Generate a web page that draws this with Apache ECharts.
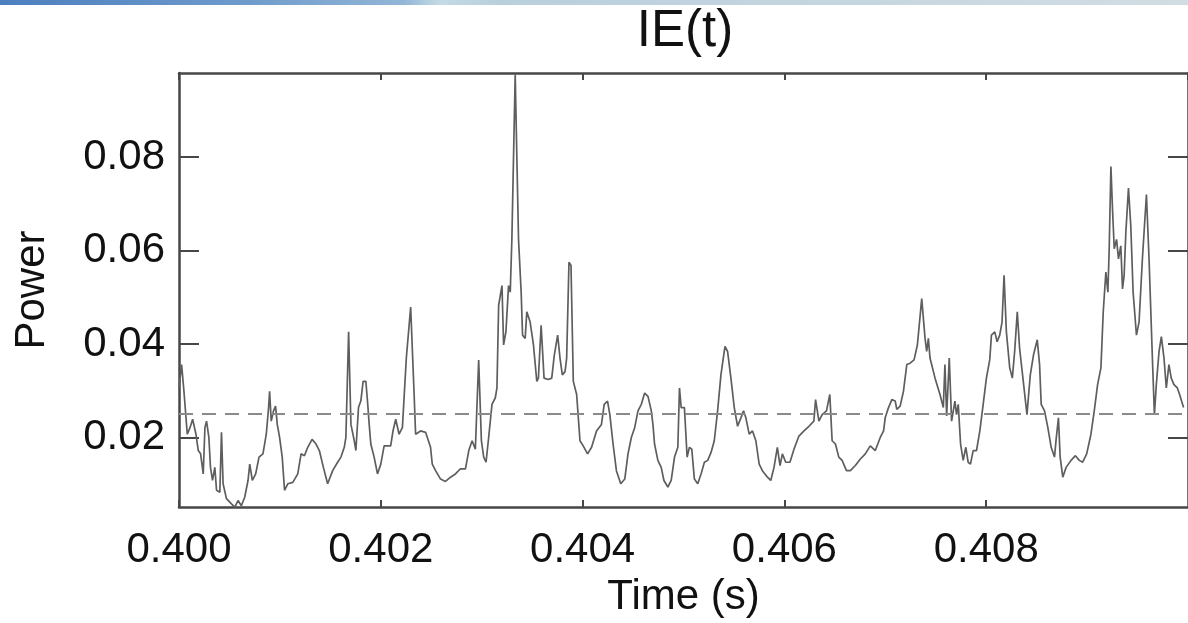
<!DOCTYPE html>
<html>
<head>
<meta charset="utf-8">
<script src="https://cdn.jsdelivr.net/npm/echarts@6/dist/echarts.min.js"></script>
<style>
html,body{margin:0;padding:0;background:#fff;}
#c{width:1188px;height:623px;}
</style>
</head>
<body>
<div id="c"></div>
<script>
// ---- data ----
var chartTitle = 'IE(t)';
var xName = 'Time (s)';
var yName = 'Power';
var xTicks = [0.400, 0.402, 0.404, 0.406, 0.408, 0.410];
var yTicks = [0.02, 0.04, 0.06, 0.08];
var xRange = [0.400, 0.410];
var yRange = [0.0051, 0.098];
var thresholdLevel = 0.025;

var timeS = [
0.400000,0.400026,0.400049,0.400082,0.400109,0.400135,0.400168,0.400191,0.400214,0.400240,
0.400257,0.400273,0.400296,0.400312,0.400332,0.400355,0.400372,0.400405,0.400421,0.400437,
0.400470,0.400520,0.400553,0.400585,0.400618,0.400651,0.400684,0.400701,0.400727,0.400760,
0.400793,0.400832,0.400865,0.400888,0.400898,0.400914,0.400937,0.400957,0.400974,0.400997,
0.401023,0.401046,0.401079,0.401128,0.401177,0.401210,0.401243,0.401276,0.401319,0.401358,
0.401391,0.401431,0.401473,0.401523,0.401572,0.401605,0.401638,0.401654,0.401681,0.401704,
0.401737,0.401753,0.401779,0.401802,0.401825,0.401852,0.401868,0.401885,0.401901,0.401934,
0.401967,0.402000,0.402033,0.402098,0.402121,0.402148,0.402181,0.402214,0.402253,0.402296,
0.402329,0.402345,0.402394,0.402444,
0.402461,0.402493,0.402510,0.402543,0.402592,0.402641,0.402691,0.402740,0.402789,0.402839,
0.402872,0.402905,0.402937,0.402970,0.402997,0.403020,0.403043,0.403069,0.403102,0.403135,
0.403151,0.403168,0.403184,0.403201,0.403217,0.403240,0.403266,0.403283,0.403299,0.403332,
0.403349,0.403365,0.403391,0.403405,0.403431,0.403447,0.403480,0.403513,0.403546,0.403562,
0.403589,0.403618,0.403661,0.403694,0.403720,0.403753,0.403776,0.403799,0.403826,0.403842,
0.403865,0.403885,0.403908,0.403941,0.403974,0.404006,0.404049,0.404089,0.404138,0.404187,
0.404214,0.404247,0.404270,0.404302,0.404335,0.404378,0.404418,0.404450,0.404483,0.404516,
0.404549,
0.404582,0.404615,0.404648,0.404681,0.404697,0.404713,0.404746,0.404779,0.404806,0.404845,
0.404878,0.404911,0.404944,0.404960,0.404977,0.405009,0.405036,0.405059,0.405082,0.405108,
0.405141,0.405174,0.405207,0.405240,0.405273,0.405305,0.405338,0.405371,0.405411,0.405437,
0.405470,0.405503,0.405536,0.405569,0.405595,0.405618,0.405651,0.405684,0.405717,0.405750,
0.405782,0.405832,0.405865,0.405897,0.405930,0.405957,0.405980,0.406013,0.406055,0.406095,
0.406144,0.406194,0.406243,0.406292,0.406309,0.406342,0.406374,0.406417,0.406450,0.406473,
0.406506,0.406539,0.406572,0.406615,0.406654,0.406703,0.406753,0.406802,0.406851,0.406901,
0.406917,
0.406950,0.406983,0.406999,0.407032,0.407065,0.407098,0.407114,0.407147,0.407180,0.407213,
0.407246,0.407285,0.407318,0.407361,0.407394,0.407410,0.407427,0.407443,0.407493,0.407542,
0.407575,0.407591,0.407608,0.407634,0.407657,0.407690,0.407706,0.407723,0.407746,0.407772,
0.407798,0.407821,0.407844,0.407871,0.407904,0.407937,0.407970,0.408002,0.408035,0.408052,
0.408085,0.408108,0.408134,0.408157,0.408177,0.408200,0.408233,0.408259,0.408282,0.408308,
0.408331,0.408364,0.408404,0.408437,0.408469,0.408506,0.408529,0.408545,0.408578,0.408611,
0.408644,0.408677,0.408693,0.408716,0.408733,0.408759,0.408792,0.408841,0.408884,0.408923,
0.408956,0.408996,0.409038,0.409071,0.409104,0.409137,0.409160,0.409186,0.409206,0.409219,
0.409236,0.409252,0.409269,0.409292,0.409311,0.409334,0.409351,0.409367,0.409384,0.409410,
0.409433,0.409456,0.409489,0.409515,0.409548,0.409588,0.409614,0.409647,0.409667,0.409686,
0.409713,0.409736,0.409762,0.409785,0.409811,0.409834,0.409861,0.409894,0.409917,0.409956
];

var power = [
0.0306,0.0356,0.0299,0.0207,0.0221,0.0239,0.0207,0.0172,0.0165,0.0122,
0.0221,0.0235,0.0200,0.0136,0.0108,0.0136,0.0087,0.0083,0.0211,0.0101,
0.0069,0.0058,0.0051,0.0065,0.0054,0.0072,0.0108,0.0143,0.0108,0.0122,
0.0158,0.0165,0.0207,0.0264,0.0299,0.0235,0.0257,0.0267,0.0228,0.0200,
0.0158,0.0087,0.0101,0.0104,0.0122,0.0165,0.0161,0.0179,0.0196,0.0186,
0.0172,0.0136,0.0101,0.0129,0.0147,0.0158,0.0179,0.0200,0.0426,0.0228,
0.0193,0.0172,0.0264,0.0278,0.0320,0.0320,0.0278,0.0228,0.0186,0.0158,
0.0122,0.0143,0.0182,0.0182,0.0214,0.0239,0.0207,0.0221,0.0370,0.0479,
0.0299,0.0207,0.0214,0.0211,
0.0211,0.0179,0.0143,0.0129,0.0111,0.0106,0.0115,0.0122,0.0133,0.0133,
0.0172,0.0193,0.0175,0.0366,0.0193,0.0158,0.0147,0.0200,0.0271,0.0285,
0.0306,0.0483,0.0483,0.0525,0.0398,0.0426,0.0525,0.0511,0.0624,0.0977,
0.0794,0.0624,0.0511,0.0419,0.0412,0.0469,0.0447,0.0398,0.0320,0.0327,
0.0440,0.0327,0.0324,0.0327,0.0377,0.0419,0.0370,0.0334,0.0341,0.0370,
0.0575,0.0568,0.0320,0.0292,0.0193,0.0182,0.0165,0.0179,0.0214,0.0228,
0.0271,0.0278,0.0249,0.0186,0.0129,0.0101,0.0111,0.0165,0.0200,0.0221,
0.0257,
0.0271,0.0295,0.0288,0.0257,0.0228,0.0186,0.0151,0.0136,0.0108,0.0094,
0.0108,0.0158,0.0179,0.0306,0.0264,0.0264,0.0158,0.0179,0.0175,0.0111,
0.0101,0.0122,0.0147,0.0151,0.0168,0.0193,0.0257,0.0334,0.0395,0.0384,
0.0327,0.0264,0.0224,0.0242,0.0257,0.0242,0.0207,0.0214,0.0193,0.0143,
0.0129,0.0115,0.0108,0.0136,0.0179,0.0140,0.0165,0.0147,0.0147,0.0175,
0.0203,0.0214,0.0224,0.0235,0.0281,0.0235,0.0249,0.0257,0.0292,0.0193,
0.0186,0.0158,0.0151,0.0129,0.0129,0.0140,0.0154,0.0165,0.0182,0.0172,
0.0172,
0.0200,0.0214,0.0242,0.0264,0.0281,0.0278,0.0260,0.0267,0.0299,0.0356,
0.0359,0.0366,0.0398,0.0497,0.0412,0.0384,0.0412,0.0370,0.0327,0.0292,
0.0264,0.0356,0.0246,0.0370,0.0235,0.0278,0.0249,0.0271,0.0186,0.0151,
0.0179,0.0147,0.0143,0.0172,0.0172,0.0214,0.0271,0.0327,0.0366,0.0419,
0.0426,0.0405,0.0419,0.0447,0.0547,0.0426,0.0349,0.0327,0.0384,0.0469,
0.0391,0.0327,0.0249,0.0334,0.0377,0.0409,0.0356,0.0271,0.0257,0.0221,
0.0179,0.0158,0.0196,0.0242,0.0158,0.0115,0.0136,0.0151,0.0161,0.0151,
0.0147,0.0165,0.0207,0.0257,0.0313,0.0349,0.0469,0.0554,0.0511,0.0604,
0.0780,0.0688,0.0604,0.0624,0.0582,0.0610,0.0518,0.0547,0.0639,0.0734,
0.0653,0.0511,0.0419,0.0447,0.0582,0.0720,0.0582,0.0370,0.0249,0.0313,
0.0384,0.0416,0.0370,0.0306,0.0356,0.0327,0.0313,0.0306,0.0292,0.0264
];

// ---- chart ----
var seriesData = timeS.map(function (t, i) { return [t, power[i]]; });
var FONT = '"Liberation Sans", Arial, Helvetica, sans-serif';
var frameColor = '#474747';
var chart = echarts.init(document.getElementById('c'), null, {renderer: 'canvas'});

var gridBox = {left: 179, top: 73, width: 1013, height: 437};

function frameAxisX(pos, showLabel) {
  return {
    type: 'value', position: pos, min: xRange[0], max: xRange[1], interval: 0.002,
    name: showLabel ? xName : '', nameLocation: 'middle', nameGap: 64,
    nameTextStyle: {fontFamily: FONT, fontSize: 42, color: '#111'},
    axisLine: {show: true, onZero: false, lineStyle: {color: frameColor, width: 2.5}},
    axisTick: {show: true, inside: true, length: 7, lineStyle: {color: frameColor, width: 2}},
    axisLabel: {
      show: showLabel, margin: 22, fontFamily: FONT, fontSize: 42, color: '#111',
      showMaxLabel: false,
      formatter: function (v) { return v.toFixed(3); }
    },
    splitLine: {show: false}
  };
}
function frameAxisY(pos, showLabel) {
  return {
    type: 'value', position: pos, min: yRange[0], max: yRange[1],
    name: showLabel ? yName : '', nameLocation: 'middle', nameGap: 126,
    nameTextStyle: {fontFamily: FONT, fontSize: 42, color: '#111'},
    axisLine: {show: true, onZero: false, lineStyle: {color: frameColor, width: 2.5}},
    axisTick: {show: true, inside: true, length: 20, customValues: yTicks,
               lineStyle: {color: frameColor, width: 2}},
    axisLabel: {
      show: showLabel, margin: 14, fontFamily: FONT, fontSize: 42, color: '#111',
      customValues: yTicks,
      formatter: function (v) { return v.toFixed(2); }
    },
    splitLine: {show: false}
  };
}

chart.setOption({
  animation: false,
  backgroundColor: '#ffffff',
  title: {
    text: chartTitle, left: 685, top: 6, textAlign: 'center', padding: 0,
    textStyle: {fontFamily: FONT, fontSize: 51, fontWeight: 'normal', color: '#111'}
  },
  graphic: [{
    type: 'rect', left: 0, top: 0, z: 10,
    shape: {width: 1188, height: 5},
    style: {
      fill: new echarts.graphic.LinearGradient(0, 0, 1, 0, [
        {offset: 0, color: '#4d7fbf'},
        {offset: 0.2, color: '#6d9acb'},
        {offset: 0.34, color: '#92b6d6'},
        {offset: 0.37, color: '#c4dbe6'},
        {offset: 0.42, color: '#b9cfdc'},
        {offset: 1, color: '#d2dde3'}
      ])
    }
  }],
  grid: gridBox,
  xAxis: [frameAxisX('bottom', true), frameAxisX('top', false)],
  yAxis: [frameAxisY('left', true), frameAxisY('right', false)],
  series: [{
    type: 'line', xAxisIndex: 0, yAxisIndex: 0,
    data: seriesData, showSymbol: false, symbol: 'none', smooth: false,
    lineStyle: {color: '#5e5e5e', width: 1.7},
    clip: true,
    markLine: {
      silent: true, symbol: ['none', 'none'], label: {show: false},
      precision: 4,
      lineStyle: {color: '#8a8a8a', type: [14, 9], width: 1.8},
      data: [{yAxis: thresholdLevel}]
    }
  }]
});
</script>
</body>
</html>
